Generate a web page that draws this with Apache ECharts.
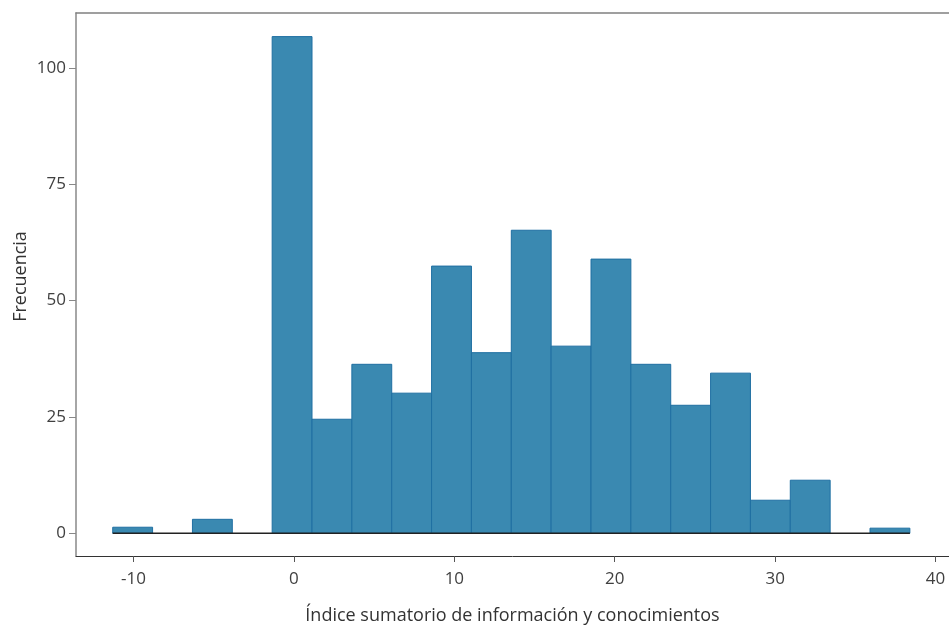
<!DOCTYPE html>
<html>
<head>
<meta charset="utf-8">
<script src="https://cdn.jsdelivr.net/npm/echarts@6/dist/echarts.min.js"></script>
<style>
html,body{margin:0;padding:0;background:#fff;}
#chart{width:949px;height:626px;}
</style>
</head>
<body>
<div id="chart"></div>
<script>
// Bin edges (x data units) and frequencies per bin
const binStarts = [-11.3, -8.815, -6.33, -3.845, -1.36, 1.125, 3.61, 6.095, 8.58, 11.065, 13.55, 16.035, 18.52, 21.005, 23.49, 25.975, 28.46, 30.945, 33.43, 35.915];
const binEnds   = [-8.815, -6.33, -3.845, -1.36, 1.125, 3.61, 6.095, 8.58, 11.065, 13.55, 16.035, 18.52, 21.005, 23.49, 25.975, 28.46, 30.945, 33.43, 35.915, 38.4];
const counts    = [1.3, 0, 3.0, 0, 106.7, 24.5, 36.3, 30.1, 57.4, 38.8, 65.1, 40.2, 58.9, 36.3, 27.5, 34.4, 7.1, 11.4, 0, 1.1];
const xTicks = [-10, 0, 10, 20, 30, 40];
const yTicks = [0, 25, 50, 75, 100];
const xTitle = 'Índice sumatorio de información y conocimientos';
const yTitle = 'Frecuencia';

const barData = binStarts.map((s, i) => [s, binEnds[i], counts[i]]).filter(d => d[2] > 0);
const baseline = [[binStarts[0], 0], [binEnds[binEnds.length - 1], 0]];

const font = '"Open Sans", "Noto Sans", sans-serif';
const chart = echarts.init(document.getElementById('chart'), null, {renderer: 'canvas'});
chart.setOption({
  animation: false,
  backgroundColor: '#ffffff',
  grid: {left: 76, right: 0, top: 13, bottom: 70, containLabel: false, outerBoundsMode: 'none'},
  xAxis: [{
    type: 'value', min: -13.59, max: 40.84,
    axisLine: {show: true, onZero: false, lineStyle: {color: '#333333', width: 1}},
    axisTick: {show: true, length: 6, lineStyle: {color: '#555555'}, customValues: xTicks},
    axisLabel: {color: '#404040', fontFamily: font, fontSize: 17, margin: 15, customValues: xTicks},
    splitLine: {show: false},
    name: xTitle, nameLocation: 'middle', nameGap: 51,
    nameTextStyle: {color: '#333333', fontFamily: font, fontSize: 18}
  }, {
    type: 'value', position: 'top', min: -13.59, max: 40.84,
    axisLine: {show: true, onZero: false, lineStyle: {color: '#808080', width: 1.5}},
    axisTick: {show: false}, axisLabel: {show: false}, splitLine: {show: false}
  }],
  yAxis: {
    type: 'value', min: -4.88, max: 111.77,
    axisLine: {show: true, onZero: false, lineStyle: {color: '#888888', width: 1.5}},
    axisTick: {show: true, length: 7, lineStyle: {color: '#888888'}, customValues: yTicks},
    axisLabel: {color: '#404040', fontFamily: font, fontSize: 17, margin: 10, customValues: yTicks},
    splitLine: {show: false},
    name: yTitle, nameLocation: 'middle', nameGap: 46, nameMoveOverlap: false,
    nameTextStyle: {color: '#333333', fontFamily: font, fontSize: 18, padding: [0, 0, 0, 16]}
  },
  series: [{
    type: 'custom',
    data: barData,
    encode: {x: [0, 1], y: 2},
    renderItem: function (params, api) {
      const p0 = api.coord([api.value(0), api.value(2)]);
      const p1 = api.coord([api.value(1), 0]);
      return {
        type: 'rect',
        shape: {x: p0[0], y: p0[1], width: p1[0] - p0[0], height: p1[1] - p0[1]},
        style: {fill: '#3a89b1', stroke: '#1f6fa2', lineWidth: 1}
      };
    }
  }, {
    type: 'line',
    data: baseline,
    symbol: 'none',
    lineStyle: {color: '#222222', width: 1.5},
    z: 5
  }]
});
</script>
</body>
</html>
